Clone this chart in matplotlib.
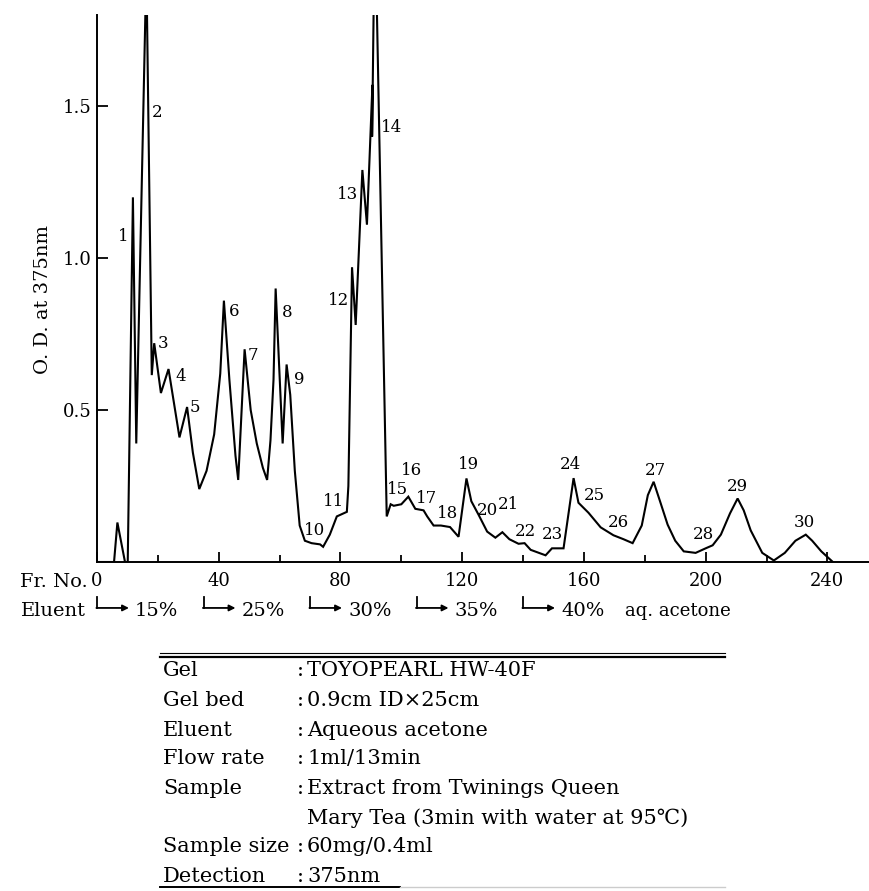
import matplotlib
matplotlib.use('Agg')
import matplotlib.pyplot as plt
import matplotlib.transforms as mtransforms
from matplotlib.lines import Line2D

plt.rcParams['font.family'] = ['DejaVu Serif', 'DejaVu Sans']

# trace (fraction no. vs O.D. at 375nm)
fr_no = [0, 5.6, 6.7, 9.2, 10.1, 11.8, 12.9, 16.1, 16.3, 18.0, 18.8, 21.0, 23.5, 27.1,
         29.6, 31.5, 33.6, 36.0, 38.5, 40.5, 41.7, 43.5, 45.5, 46.4, 48.5, 50.5, 52.5,
         54.5, 55.9, 57.0, 58.0, 58.7, 61.0, 62.3, 63.5, 65.0, 66.6, 68.3, 70.5, 73.3,
         74.3, 76.5, 78.8, 82.1, 82.6, 83.8, 85.0, 87.2, 88.7, 90.5, 90.4, 91.0, 91.8,
         95.2, 96.5, 97.5, 100.0, 102.3, 104.6, 107.3, 108.5, 110.6, 113.0, 116.0, 118.8,
         121.4, 123.0, 125.3, 128.2, 130.9, 133.2, 135.5, 138.5, 140.5, 142.5, 147.4,
         149.5, 153.3, 156.6, 158.2, 161.5, 165.5, 169.7, 173.0, 176.0, 179.0, 181.0,
         182.9, 185.0, 187.5, 190.0, 192.8, 196.7, 200.0, 202.3, 205.0, 208.0, 210.5,
         212.5, 214.8, 218.6, 222.4, 226.0, 229.5, 232.9, 235.0, 238.0, 241.8]
od = [0, 0, 0.13, 0, 0, 1.20, 0.39, 1.90, 1.90, 0.615, 0.72, 0.556, 0.635, 0.41,
      0.51, 0.36, 0.24, 0.30, 0.42, 0.62, 0.86, 0.60, 0.35, 0.27, 0.70, 0.50, 0.39,
      0.31, 0.27, 0.40, 0.60, 0.90, 0.39, 0.65, 0.55, 0.30, 0.12, 0.07, 0.062, 0.058,
      0.05, 0.09, 0.15, 0.165, 0.25, 0.97, 0.78, 1.29, 1.11, 1.57, 1.40, 1.90, 1.90,
      0.15, 0.19, 0.185, 0.19, 0.215, 0.175, 0.17, 0.15, 0.12, 0.12, 0.115, 0.083,
      0.275, 0.20, 0.157, 0.10, 0.08, 0.098, 0.075, 0.06, 0.062, 0.04, 0.022,
      0.045, 0.045, 0.276, 0.195, 0.162, 0.114, 0.088, 0.075, 0.062, 0.12, 0.22,
      0.264, 0.20, 0.123, 0.07, 0.035, 0.03, 0.045, 0.055, 0.09, 0.16, 0.209,
      0.17, 0.104, 0.03, 0.005, 0.03, 0.07, 0.09, 0.07, 0.035, 0.0]

peak_no = list(range(1, 31))
peak_x = [8.5, 19.8, 21.7, 27.5, 32.2, 45.0, 51.4, 62.4, 66.3, 71.6, 77.8, 79.5, 82.3,
          96.9, 98.7, 103.3, 108.4, 115.1, 122.0, 128.3, 135.2, 140.8, 149.7, 155.6,
          163.5, 171.4, 183.6, 199.3, 210.5, 232.6]
peak_y = [1.07, 1.48, 0.72, 0.61, 0.51, 0.825, 0.68, 0.82, 0.60, 0.105, 0.20, 0.86,
          1.21, 1.43, 0.24, 0.30, 0.21, 0.16, 0.32, 0.17, 0.19, 0.10, 0.09, 0.32,
          0.22, 0.13, 0.30, 0.09, 0.25, 0.13]

eluent_start = [0, 35, 70, 105, 140]
eluent_pct = ['15%', '25%', '30%', '35%', '40%']

cond_names = ['Gel', 'Gel bed', 'Eluent', 'Flow rate', 'Sample', '', 'Sample size', 'Detection']
cond_values = ['TOYOPEARL HW-40F', '0.9cm ID×25cm', 'Aqueous acetone', '1ml/13min',
               'Extract from Twinings Queen', 'Mary Tea (3min with water at 95℃)',
               '60mg/0.4ml', '375nm']

W, H = 870, 891
def fx(px):
    return px / W
def fy(py):
    return 1 - py / H

fig = plt.figure(figsize=(8.7, 8.91), dpi=100)
ax = fig.add_axes([fx(97), fy(562), (870 - 97) / W, (562 - 15) / H])

ax.plot(fr_no, od, color='black', lw=1.5, solid_joinstyle='miter')
ax.set_xlim(0, 254)
ax.set_ylim(0, 1.8)

for s in ['top', 'right']:
    ax.spines[s].set_visible(False)
for s in ['left', 'bottom']:
    ax.spines[s].set_linewidth(1.4)

ax.set_xticks(range(0, 241, 40))
ax.set_xticks(range(20, 241, 40), minor=True)
ax.set_yticks([0.5, 1.0, 1.5])
ax.set_yticklabels(['0.5', '1.0', '1.5'])
ax.tick_params(axis='both', which='major', direction='in', length=7, width=1.3,
               labelsize=13, pad=5)
ax.tick_params(axis='x', which='major', pad=7)
ax.tick_params(axis='x', which='minor', direction='in', length=5, width=1.3)
ax.tick_params(axis='y', which='major', length=8, pad=4)

for n, x, y in zip(peak_no, peak_x, peak_y):
    ax.text(x, y, str(n), fontsize=12, ha='center', va='center')

fig.text(fx(43), fy(300), 'O. D. at 375nm', rotation=90, fontsize=14,
         ha='center', va='center')
fig.text(fx(88), fy(582), 'Fr. No.', fontsize=14, ha='right', va='center')

# eluent steps below the axis
trans = mtransforms.blended_transform_factory(ax.transData, ax.transAxes)
fig.text(fx(86), fy(611), 'Eluent', fontsize=14, ha='right', va='center')
y_top, y_arr, y_txt = -0.064, -0.084, -0.09
for x0, lab in zip(eluent_start, eluent_pct):
    ax.plot([x0, x0], [y_top, y_arr], color='black', lw=1.3, transform=trans, clip_on=False)
    ax.annotate('', xy=(x0 + 10.5, y_arr), xytext=(x0 - 0.2, y_arr),
                xycoords=trans, textcoords=trans,
                arrowprops=dict(arrowstyle='-|>', color='black', lw=1.3,
                                mutation_scale=9, shrinkA=0, shrinkB=0))
    ax.text(x0 + 12.5, y_txt, lab, fontsize=14, ha='left', va='center', transform=trans)
ax.text(eluent_start[-1] + 33.5, y_txt, 'aq. acetone', fontsize=13, ha='left',
        va='center', transform=trans)

# conditions table
fig.add_artist(Line2D([fx(160), fx(725)], [fy(653), fy(653)], color='black', lw=0.8))
fig.add_artist(Line2D([fx(160), fx(725)], [fy(657), fy(657)], color='black', lw=1.6))
row_y = [671, 700, 730, 759, 788, 818, 847, 876]
for py, name, val in zip(row_y, cond_names, cond_values):
    if name:
        fig.text(fx(163), fy(py), name, fontsize=15, ha='left', va='center')
        fig.text(fx(297), fy(py), ':', fontsize=15, ha='left', va='center')
    fig.text(fx(307), fy(py), val, fontsize=15, ha='left', va='center')
fig.add_artist(Line2D([fx(160), fx(400)], [fy(887), fy(887)], color='black', lw=1.4))
fig.add_artist(Line2D([fx(400), fx(725)], [fy(887), fy(887)], color='#cccccc', lw=1.0))

fig.savefig('out.png', dpi=100)
